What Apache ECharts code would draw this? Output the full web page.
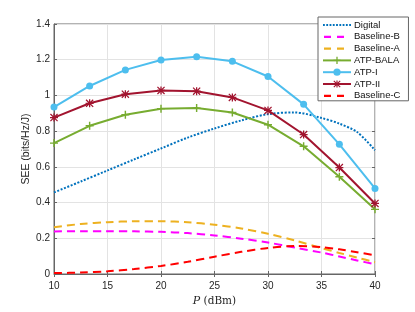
<!DOCTYPE html>
<html><head><meta charset="utf-8">
<script src="https://cdn.jsdelivr.net/npm/echarts@6/dist/echarts.min.js"></script>
<style>html,body{margin:0;padding:0;background:#fff}#c{width:415px;height:312px}</style>
</head><body><div id="c"></div>
<script>
// x positions (dBm) for marker series
const pMark = [10, 13.33, 16.67, 20, 23.33, 26.67, 30, 33.33, 36.67, 40];
const atpI    = [0.935, 1.053, 1.143, 1.198, 1.216, 1.191, 1.106, 0.950, 0.726, 0.479];
const atpII   = [0.876, 0.956, 1.007, 1.028, 1.024, 0.989, 0.916, 0.781, 0.596, 0.395];
const atpBALA = [0.733, 0.830, 0.892, 0.926, 0.929, 0.904, 0.836, 0.715, 0.545, 0.362];
// x positions (dBm) for curve series
const pCurve = [10, 12.5, 15, 17.5, 20, 22.5, 25, 27.5, 30, 32.5, 35, 36.67, 38.33, 40];
const digital   = [0.457, 0.518, 0.580, 0.642, 0.703, 0.764, 0.815, 0.860, 0.895, 0.905, 0.874, 0.842, 0.795, 0.693];
const baselineA = [0.262, 0.280, 0.290, 0.295, 0.295, 0.290, 0.276, 0.255, 0.225, 0.188, 0.145, 0.118, 0.092, 0.066];
const baselineB = [0.238, 0.240, 0.240, 0.239, 0.236, 0.229, 0.216, 0.198, 0.176, 0.148, 0.120, 0.098, 0.076, 0.054];
const baselineC = [0.005, 0.008, 0.015, 0.028, 0.045, 0.068, 0.097, 0.124, 0.146, 0.157, 0.150, 0.138, 0.122, 0.104];
const yTicks = [0, 0.2, 0.4, 0.6, 0.8, 1, 1.2, 1.4];
const legendNames = ['Digital', 'Baseline-B', 'Baseline-A', 'ATP-BALA', 'ATP-I', 'ATP-II', 'Baseline-C'];

const zip = (xs, ys) => xs.map((x, i) => [x, ys[i]]);
const plusPath = 'path://M4.1,0 L5.9,0 L5.9,10 L4.1,10 Z M0,4.1 L10,4.1 L10,5.9 L0,5.9 Z';
const starPath = 'path://M4.2,0 L5.8,0 L5.8,10 L4.2,10 Z M0,4.2 L10,4.2 L10,5.8 L0,5.8 Z M0,1.1 L1.1,0 L10,8.9 L8.9,10 Z M8.9,0 L10,1.1 L1.1,10 L0,8.9 Z';
// legend icons (28x9 box, degenerate corner points keep the box)
const box = 'M0,0 L0,0 Z M28,9 L28,9 Z ';
const dashIcon = 'path://' + box + 'M1,3.4 L8,3.4 L8,5.6 L1,5.6 Z M14,3.4 L21,3.4 L21,5.6 L14,5.6 Z';
let dots = '';
for (let x = 0; x < 28; x += 3.4) dots += `M${x},3.5 L${x + 1.9},3.5 L${x + 1.9},5.5 L${x},5.5 Z `;
const dotIcon = 'path://' + box + dots;

const axisCol = '#262626';
const frameCol = '#666';
const dash = [8, 5];

const chart = echarts.init(document.getElementById('c'), null, {renderer: 'canvas'});
chart.setOption({
  animation: false,
  backgroundColor: '#fff',
  textStyle: {fontFamily: 'Liberation Sans, Arial, sans-serif'},
  grid: {left: 54, right: 40, top: 24, bottom: 34, show: true, borderColor: frameCol, borderWidth: 1, containLabel: false},
  xAxis: [{
    type: 'value', min: 10, max: 40, interval: 5,
    name: '{i|P} {n|(dBm)}', nameLocation: 'middle', nameGap: 21, nameMoveOverlap: false,
    nameTextStyle: {rich: {i: {fontFamily: 'DejaVu Serif', fontStyle: 'italic', fontSize: 11, color: axisCol},
                           n: {fontFamily: 'DejaVu Serif', fontSize: 10.5, color: axisCol}}},
    axisLine: {lineStyle: {color: frameCol}},
    axisTick: {inside: true, length: 3, lineStyle: {color: frameCol}},
    axisLabel: {color: axisCol, fontSize: 10, margin: 7},
    splitLine: {show: true, lineStyle: {color: '#e3e3e3', width: 1}}
  }, {
    type: 'value', min: 10, max: 40, interval: 5, position: 'top',
    axisLine: {show: false}, axisTick: {inside: true, length: 3, lineStyle: {color: frameCol}},
    axisLabel: {show: false}, splitLine: {show: false}
  }],
  yAxis: [{
    type: 'value', min: 0, max: 1.4, interval: 0.2,
    name: 'SEE (bits/Hz/J)', nameLocation: 'middle', nameGap: 22, nameRotate: 90, nameMoveOverlap: false,
    nameTextStyle: {color: axisCol, fontSize: 10.5},
    axisLine: {show: true, lineStyle: {color: frameCol}},
    axisTick: {inside: true, length: 3, lineStyle: {color: frameCol}},
    axisLabel: {color: axisCol, fontSize: 10, margin: 4, formatter: v => {
      const t = yTicks.find(k => Math.abs(k - v) < 1e-9); return t === undefined ? '' : String(t);
    }},
    splitLine: {show: true, lineStyle: {color: '#e3e3e3', width: 1}}
  }, {
    type: 'value', min: 0, max: 1.4, interval: 0.2, position: 'right',
    axisLine: {show: false}, axisTick: {inside: true, length: 3, lineStyle: {color: frameCol}},
    axisLabel: {show: false}, splitLine: {show: false}
  }],
  legend: {
    orient: 'vertical', left: 318, top: 17,
    padding: [3, 8, 0, 4], itemGap: 1.8, itemWidth: 28, itemHeight: 9,
    backgroundColor: '#fff', borderColor: frameCol, borderWidth: 1, borderRadius: 0,
    itemStyle: {borderWidth: 0},
    textStyle: {fontSize: 9.5, color: '#111', padding: [0, 0, 0, -2]},
    data: [
      {name: legendNames[0], icon: dotIcon},
      {name: legendNames[1], icon: dashIcon},
      {name: legendNames[2], icon: dashIcon},
      {name: legendNames[3]},
      {name: legendNames[4]},
      {name: legendNames[5]},
      {name: legendNames[6], icon: dashIcon}
    ]
  },
  series: [
    {name: legendNames[0], type: 'line', data: zip(pCurve, digital), smooth: 0.3, showSymbol: false, symbol: 'none',
     lineStyle: {color: '#0072BD', width: 2, type: [2, 1.6]}, itemStyle: {color: '#0072BD'}, z: 3},
    {name: legendNames[1], type: 'line', data: zip(pCurve, baselineB), smooth: 0.3, symbol: 'none',
     lineStyle: {color: '#FF00FF', width: 2, type: dash}, itemStyle: {color: '#FF00FF'}, z: 3},
    {name: legendNames[2], type: 'line', data: zip(pCurve, baselineA), smooth: 0.3, symbol: 'none',
     lineStyle: {color: '#EDB120', width: 2, type: dash}, itemStyle: {color: '#EDB120'}, z: 3},
    {name: legendNames[3], type: 'line', data: zip(pMark, atpBALA), symbol: plusPath, symbolSize: 8,
     lineStyle: {color: '#77AC30', width: 2}, itemStyle: {color: '#77AC30'}, z: 4},
    {name: legendNames[4], type: 'line', data: zip(pMark, atpI), symbol: 'circle', symbolSize: 7,
     lineStyle: {color: '#4DBEEE', width: 2}, itemStyle: {color: '#4DBEEE'}, z: 4},
    {name: legendNames[5], type: 'line', data: zip(pMark, atpII), symbol: starPath, symbolSize: 8,
     lineStyle: {color: '#A2142F', width: 2}, itemStyle: {color: '#A2142F'}, z: 4},
    {name: legendNames[6], type: 'line', data: zip(pCurve, baselineC), smooth: 0.3, symbol: 'none',
     lineStyle: {color: '#FF0000', width: 2, type: dash}, itemStyle: {color: '#FF0000'}, z: 3}
  ]
});
</script></body></html>
